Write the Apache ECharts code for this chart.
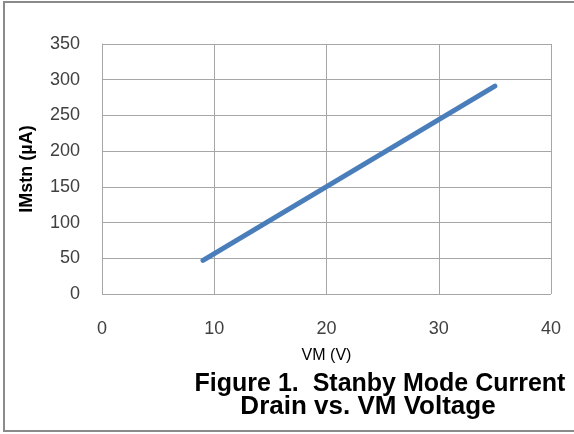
<!DOCTYPE html>
<html>
<head>
<meta charset="utf-8">
<script src="https://cdn.jsdelivr.net/npm/echarts@6/dist/echarts.min.js"></script>
<style>
  html, body { margin: 0; padding: 0; background: #fff; }
  #main { width: 574px; height: 434px; }
</style>
</head>
<body>
<div id="main"></div>
<script>
// supply voltage VM (V) and standby current IMstn (uA)
const vm = [9, 35];
const imstn = [47, 291];

const xTicks = [0, 10, 20, 30, 40];
const yTicks = [0, 50, 100, 150, 200, 250, 300, 350];

const chart = echarts.init(document.getElementById('main'));

const font = 'Liberation Sans, Arial, sans-serif';

chart.setOption({
  animation: false,
  backgroundColor: '#fff',
  grid: { left: 102, right: 23, top: 44, bottom: 140 },
  graphic: [
    {
      type: 'rect',
      shape: { x: 4, y: 2, width: 580, height: 429 },
      style: { fill: 'none', stroke: '#8a8a8a', lineWidth: 2 }
    },
    {
      type: 'text',
      x: 380, y: 384,
      style: {
        text: 'Figure 1.  Stanby Mode Current',
        font: 'bold 25px ' + font,
        fill: '#000',
        align: 'center',
        verticalAlign: 'middle'
      }
    },
    {
      type: 'text',
      x: 368, y: 407,
      style: {
        text: 'Drain vs. VM Voltage',
        font: 'bold 26px ' + font,
        fill: '#000',
        align: 'center',
        verticalAlign: 'middle'
      }
    }
  ],
  xAxis: {
    type: 'value',
    min: 0, max: 40, interval: 10,
    name: 'VM (V)',
    nameLocation: 'middle',
    nameGap: 54,
    nameMoveOverlap: false,
    nameTextStyle: { fontFamily: font, fontSize: 16, color: '#000' },
    axisLine: { show: false },
    axisTick: { show: false },
    axisLabel: {
      fontFamily: font, fontSize: 18, color: '#404040', margin: 26,
      formatter: v => xTicks.includes(v) ? String(v) : ''
    },
    splitLine: { show: true, lineStyle: { color: '#a6a6a6', width: 1 } }
  },
  yAxis: {
    type: 'value',
    min: 0, max: 350, interval: 50,
    name: 'IMstn (µA)',
    nameLocation: 'middle',
    nameGap: 66,
    nameTextStyle: { fontFamily: font, fontSize: 18, fontWeight: 'bold', color: '#000' },
    axisLine: { show: true, lineStyle: { color: '#a6a6a6', width: 1 } },
    axisTick: { show: false },
    axisLabel: {
      fontFamily: font, fontSize: 18, color: '#404040', margin: 22,
      formatter: v => yTicks.includes(v) ? String(v) : ''
    },
    splitLine: { show: true, lineStyle: { color: '#a6a6a6', width: 1 } }
  },
  series: [{
    type: 'line',
    data: vm.map((x, i) => [x, imstn[i]]),
    symbol: 'none',
    lineStyle: { color: '#4a7ebb', width: 5, cap: 'round' }
  }]
});
</script>
</body>
</html>
